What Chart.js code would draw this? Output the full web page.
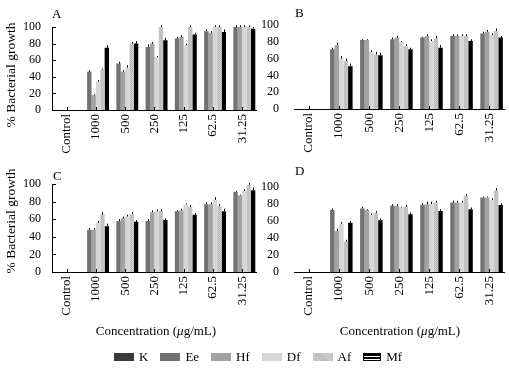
<!DOCTYPE html>
<html>
<head>
<meta charset="utf-8">
<script src="https://cdn.jsdelivr.net/npm/chart.js@4"></script>
<style>
  html, body { margin: 0; padding: 0; background: #fff; }
  body { width: 509px; height: 368px; position: relative; overflow: hidden;
         font-family: "Liberation Serif", "DejaVu Serif", serif; color: #000; }
  canvas { position: absolute; }
  .txt { position: absolute; font-size: 13px; line-height: 14px; white-space: nowrap; }
  .ytitle { position: absolute; font-size: 13.5px; white-space: nowrap;
            transform: translate(-50%, -50%) rotate(-90deg); }
  .xtitle { position: absolute; font-size: 13px; white-space: nowrap; transform: translate(-50%, -50%); }
  #legend { position: absolute; left: 114px; top: 349px; display: flex; align-items: center; font-size: 13px; }
  #legend span.sw { display: inline-block; width: 20px; height: 8px; margin-right: 5px; }
  #legend .item { display: flex; align-items: center; margin-right: 12px; }
</style>
</head>
<body>
<canvas id="chartA"></canvas>
<canvas id="chartB"></canvas>
<canvas id="chartC"></canvas>
<canvas id="chartD"></canvas>

<div class="txt" style="left:52px;top:7px">A</div>
<div class="txt" style="left:295px;top:6px">B</div>
<div class="txt" style="left:53px;top:169px">C</div>
<div class="txt" style="left:295px;top:164px">D</div>
<div class="ytitle" style="left:11px;top:75px">% Bacterial growth</div>
<div class="ytitle" style="left:11px;top:221px">% Bacterial growth</div>
<div class="xtitle" style="left:156px;top:331px">Concentration (<i>μ</i>g/mL)</div>
<div class="xtitle" style="left:400px;top:331px">Concentration (<i>μ</i>g/mL)</div>
<div id="legend"></div>

<script>
const categories = ['Control', '1000', '500', '250', '125', '62.5', '31.25'];
const seriesNames = ['K', 'Ee', 'Hf', 'Df', 'Af', 'Mf'];

// panel A
const aK  = [0, 0, 0, 0, 0, 0, 0];
const aEe = [0, 46, 56, 76, 86, 95, 100];
const aHf = [0, 18, 46, 80, 88, 93, 100];
const aDf = [0, 34, 51, 64, 78, 100, 100];
const aAf = [0, 49, 80, 100, 100, 100, 100];
const aMf = [0, 75, 80, 84, 91, 94, 98];
const errA = [
  [0, 0, 0, 0, 0, 0, 0],
  [0, 2, 2, 3, 2, 2, 2],
  [0, 1, 2, 2, 2, 2, 2],
  [0, 2, 3, 1, 2, 2, 2],
  [0, 1, 2, 2, 2, 2, 2],
  [0, 3, 3, 3, 2, 3, 2]
];

// panel B
const bK  = [0, 0, 0, 0, 0, 0, 0];
const bEe = [0, 71, 82, 83, 85, 87, 90];
const bHf = [0, 76, 82, 85, 87, 87, 92];
const bDf = [0, 60, 68, 80, 81, 87, 88];
const bAf = [0, 57, 65, 75, 84, 87, 93];
const bMf = [0, 51, 64, 71, 73, 81, 85];
const errB = [
  [0, 0, 0, 0, 0, 0, 0],
  [0, 2, 1, 2, 1, 2, 2],
  [0, 3, 1, 2, 2, 2, 2],
  [0, 3, 2, 1, 2, 2, 2],
  [0, 3, 3, 2, 3, 2, 3],
  [0, 3, 3, 2, 3, 2, 2]
];

// panel C
const cK  = [0, 0, 0, 0, 0, 0, 0];
const cEe = [0, 48, 58, 58, 69, 77, 91];
const cHf = [0, 48, 61, 68, 70, 77, 87];
const cDf = [0, 56, 63, 69, 77, 82, 92];
const cAf = [0, 65, 66, 69, 74, 75, 99];
const cMf = [0, 52, 57, 59, 65, 69, 93];
const errC = [
  [0, 0, 0, 0, 0, 0, 0],
  [0, 2, 2, 2, 1, 2, 1],
  [0, 2, 2, 2, 2, 2, 1],
  [0, 2, 2, 2, 1, 3, 2],
  [0, 3, 2, 2, 2, 2, 2],
  [0, 3, 2, 2, 2, 3, 3]
];

// panel D
const dK  = [0, 0, 0, 0, 0, 0, 0];
const dEe = [0, 73, 75, 78, 79, 82, 88];
const dHf = [0, 48, 73, 78, 80, 82, 88];
const dDf = [0, 57, 67, 76, 80, 82, 85];
const dAf = [0, 36, 70, 77, 82, 90, 96];
const dMf = [0, 58, 61, 68, 72, 74, 79];
const errD = [
  [0, 0, 0, 0, 0, 0, 0],
  [0, 2, 2, 2, 2, 2, 1],
  [0, 3, 1, 2, 3, 2, 1],
  [0, 2, 2, 1, 3, 2, 2],
  [0, 2, 2, 2, 2, 2, 3],
  [0, 2, 2, 2, 2, 2, 2]
];

const yTicks = [0, 20, 40, 60, 80, 100];

Chart.defaults.font.family = '"Liberation Serif", "DejaVu Serif", serif';
Chart.defaults.color = '#000';

function dots(a, b) {
  const c = document.createElement('canvas');
  c.width = 2; c.height = 2;
  const g = c.getContext('2d');
  g.fillStyle = a; g.fillRect(0, 0, 2, 2);
  g.fillStyle = b; g.fillRect(0, 0, 1, 1); g.fillRect(1, 1, 1, 1);
  return g.createPattern(c, 'repeat');
}
const colors = ['#3c3c3c', dots('#6a6a6a', '#7a7a7a'), '#a2a2a2', '#d6d6d6', dots('#cdcdcd', '#b9b9b9'), '#000000'];
const swatchCss = ['#3c3c3c', '#727272', '#a2a2a2', '#d6d6d6',
  'repeating-linear-gradient(45deg,#cdcdcd 0 1px,#b9b9b9 1px 2px)',
  'repeating-linear-gradient(to bottom,#000 0 2px,#fff 2px 3px)'];

// upper error whiskers and inside tick marks
const extras = {
  id: 'extras',
  afterDatasetsDraw(chart, args, opts) {
    const ctx = chart.ctx, xs = chart.scales.x, ys = chart.scales.y, area = chart.chartArea;
    ctx.save();
    ctx.strokeStyle = '#000';
    ctx.lineWidth = 1;
    chart.data.datasets.forEach((ds, i) => {
      chart.getDatasetMeta(i).data.forEach((bar, j) => {
        const v = ds.data[j], e = ds.err[j];
        if (!v || !e) return;
        const px = Math.round(bar.x) + 0.5;
        ctx.beginPath();
        ctx.moveTo(px, ys.getPixelForValue(v));
        ctx.lineTo(px, ys.getPixelForValue(v + e));
        ctx.stroke();
      });
    });
    xs.ticks.forEach((t, i) => {
      const px = Math.round(xs.getPixelForTick(i)) + 0.5;
      ctx.beginPath();
      ctx.moveTo(px, area.bottom);
      ctx.lineTo(px, area.bottom - 3);
      ctx.stroke();
    });
    if (opts.yAxis) {
      ys.ticks.forEach((t, i) => {
        const py = Math.round(ys.getPixelForTick(i)) + 0.5;
        ctx.beginPath();
        ctx.moveTo(area.left, py);
        ctx.lineTo(area.left + 4, py);
        ctx.stroke();
      });
    }
    ctx.restore();
  }
};

function makeChart(id, pos, series, errs, yAxisLine) {
  const el = document.getElementById(id);
  el.width = pos.w; el.height = pos.h;
  el.style.left = pos.left + 'px'; el.style.top = pos.top + 'px';
  el.style.width = pos.w + 'px'; el.style.height = pos.h + 'px';
  return new Chart(el, {
    type: 'bar',
    data: {
      labels: categories,
      datasets: series.map((s, i) => ({
        label: seriesNames[i],
        data: s,
        err: errs[i],
        backgroundColor: colors[i],
        borderWidth: 0,
        categoryPercentage: 0.9,
        barPercentage: 1.0
      }))
    },
    options: {
      responsive: false,
      devicePixelRatio: 1,
      animation: false,
      layout: { padding: { top: pos.padTop, right: pos.padRight, left: 0, bottom: 0 } },
      plugins: { legend: { display: false }, tooltip: { enabled: false }, extras: { yAxis: yAxisLine } },
      scales: {
        x: {
          grid: { display: false, drawTicks: false },
          border: { display: true, color: '#000', width: 1 },
          ticks: { autoSkip: false, minRotation: 90, maxRotation: 90, padding: 4, font: { size: 13 } },
          afterFit: sc => { sc.height = pos.xH; }
        },
        y: {
          min: 0, max: 100,
          afterBuildTicks: sc => { sc.ticks = yTicks.map(v => ({ value: v })); },
          grid: { display: false, drawTicks: false },
          border: { display: yAxisLine, color: '#000', width: 1 },
          ticks: { autoSkip: false, padding: pos.yPad, font: { size: 12 } },
          afterFit: sc => { sc.width = pos.yW; }
        }
      }
    },
    plugins: [extras]
  });
}

makeChart('chartA', { left: 0, top: 0, w: 262, h: 165, padTop: 27, padRight: 4, xH: 55, yW: 52, yPad: 11 },
  [aK, aEe, aHf, aDf, aAf, aMf], errA, true);
makeChart('chartB', { left: 255, top: 0, w: 254, h: 165, padTop: 25, padRight: 1, xH: 56, yW: 39, yPad: 15 },
  [bK, bEe, bHf, bDf, bAf, bMf], errB, false);
makeChart('chartC', { left: 0, top: 165, w: 262, h: 175, padTop: 19, padRight: 4, xH: 68, yW: 52, yPad: 11 },
  [cK, cEe, cHf, cDf, cAf, cMf], errC, true);
makeChart('chartD', { left: 255, top: 165, w: 254, h: 175, padTop: 19, padRight: 1, xH: 68, yW: 39, yPad: 15 },
  [dK, dEe, dHf, dDf, dAf, dMf], errD, false);

const legend = document.getElementById('legend');
seriesNames.forEach((name, i) => {
  const item = document.createElement('div');
  item.className = 'item';
  const sw = document.createElement('span');
  sw.className = 'sw';
  sw.style.background = swatchCss[i];
  if (i === 5) { sw.style.width = '16px'; sw.style.border = '1px solid #000'; sw.style.height = '6px'; }
  item.appendChild(sw);
  item.appendChild(document.createTextNode(name));
  legend.appendChild(item);
});
</script>
</body>
</html>
